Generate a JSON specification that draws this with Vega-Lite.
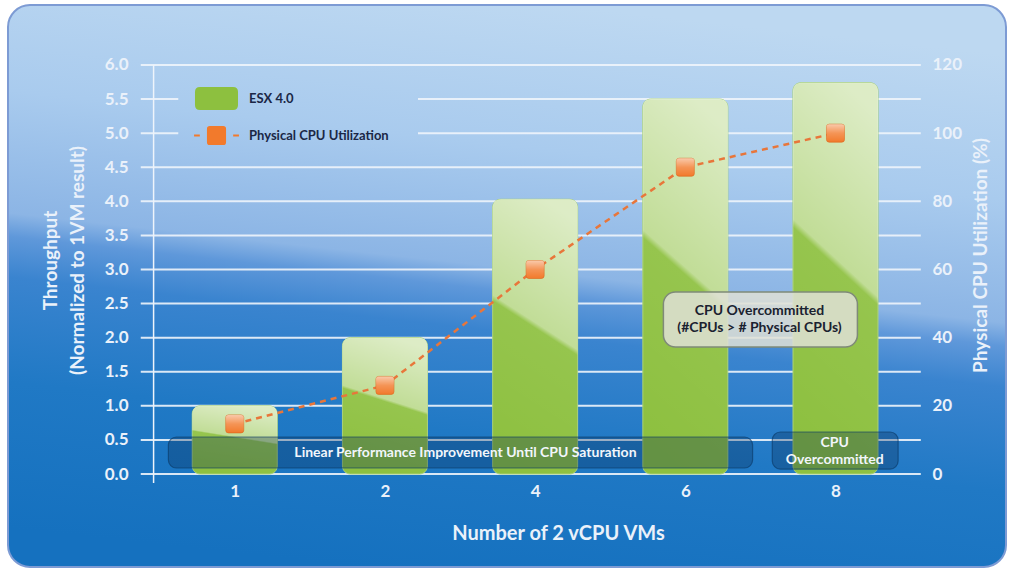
{
  "$schema": "https://vega.github.io/schema/vega-lite/v6.json",
  "width": 998,
  "height": 562,
  "autosize": {"type": "none"},
  "padding": {"left": 8, "top": 5, "right": 8, "bottom": 4},
  "background": "white",
  "config": {
    "view": {
      "cornerRadius": 22,
      "stroke": "#7d9bd4",
      "strokeWidth": 2,
      "fill": {
        "gradient": "linear",
        "x1": 0.55, "y1": 0, "x2": 0.354, "y2": 1,
        "stops": [
          {"offset": 0, "color": "#bdd8f1"},
          {"offset": 0.25, "color": "#a9cbee"},
          {"offset": 0.46, "color": "#8cb5e5"},
          {"offset": 0.5, "color": "#5f98da"},
          {"offset": 0.57, "color": "#3a84cf"},
          {"offset": 0.75, "color": "#2079c5"},
          {"offset": 1, "color": "#1571bf"}
        ]
      }
    },
    "font": "Lato",
    "axis": {"labelFont": "Lato", "titleFont": "Lato", "zindex": 1, "grid": false, "domain": false, "ticks": false},
    "legend": {"labelFont": "Lato"}
  },
  "datasets": {
    "main": [
      {"slot": 0, "vms": "1", "throughput": 1.0, "cpu": 14.7},
      {"slot": 1, "vms": "2", "throughput": 2.0, "cpu": 26},
      {"slot": 2, "vms": "4", "throughput": 4.03, "cpu": 60},
      {"slot": 3, "vms": "6", "throughput": 5.5, "cpu": 90},
      {"slot": 4, "vms": "8", "throughput": 5.74, "cpu": 100}
    ],
    "grid": [
      {"y": 0.0, "x1": -0.626, "x2": 4.568},
      {"y": 0.5, "x1": -0.626, "x2": 4.568},
      {"y": 1.0, "x1": -0.626, "x2": 4.568},
      {"y": 1.5, "x1": -0.626, "x2": 4.568},
      {"y": 2.0, "x1": -0.626, "x2": 4.568},
      {"y": 2.5, "x1": -0.626, "x2": 4.568},
      {"y": 3.0, "x1": -0.626, "x2": 4.568},
      {"y": 3.5, "x1": -0.626, "x2": 4.568},
      {"y": 4.0, "x1": -0.626, "x2": 4.568},
      {"y": 4.5, "x1": -0.626, "x2": 4.568},
      {"y": 5.0, "x1": -0.626, "x2": -0.376},
      {"y": 5.0, "x1": 1.22, "x2": 4.568},
      {"y": 5.5, "x1": -0.626, "x2": -0.376},
      {"y": 5.5, "x1": 1.22, "x2": 4.568},
      {"y": 6.0, "x1": -0.626, "x2": 4.568}
    ],
    "axisline": [{"x": -0.5405, "y1": 6.0, "y2": -0.13}],
    "darkboxes": [
      {"x1": -0.442, "x2": 3.448, "y1": 0.543, "y2": 0.088},
      {"x1": 3.579, "x2": 4.417, "y1": 0.616, "y2": 0.073}
    ],
    "darktext": [
      {"x": 1.536, "y": 0.308, "label": "Linear Performance Improvement Until CPU Saturation"},
      {"x": 3.995, "y": 0.455, "label": "CPU\nOvercommitted"}
    ],
    "callout": [
      {"x1": 2.854, "x2": 4.146, "y1": 2.67, "y2": 1.863, "x": 3.494, "y": 2.391, "label": "CPU Overcommitted\n(#CPUs > # Physical CPUs)"}
    ]
  },
  "resolve": {"scale": {"y": "independent"}, "axis": {"y": "independent"}},
  "layer": [
    {
      "layer": [
        {
          "data": {"name": "grid"},
          "mark": {"type": "rule", "color": "#eef4fb", "strokeWidth": 2, "opacity": 0.9},
          "encoding": {
            "x": {"field": "x1", "type": "quantitative", "scale": {"domain": [-1.4766, 5.102], "nice": false, "zero": false}},
            "x2": {"field": "x2"},
            "y": {"field": "y", "type": "quantitative", "scale": {"domain": [-1.364, 6.88], "nice": false, "zero": false}}
          }
        },
        {
          "data": {"name": "axisline"},
          "mark": {"type": "rule", "color": "#eef4fb", "strokeWidth": 1.5},
          "encoding": {
            "x": {"field": "x", "type": "quantitative"},
            "y": {"field": "y1", "type": "quantitative"},
            "y2": {"field": "y2"}
          }
        },
        {
          "data": {"name": "main"},
          "mark": {"type": "bar", "orient": "vertical", "width": 85, "cornerRadius": 8, "stroke": "#a9d177", "strokeWidth": 1},
          "encoding": {
            "x": {
              "field": "slot", "type": "quantitative",
              "axis": {
                "title": "Number of 2 vCPU VMs",
                "values": [0, 1, 2, 3, 4],
                "labelExpr": "['1','2','4','6','8'][datum.value]",
                "domain": false, "ticks": false, "grid": false, "zindex": 1,
                "offset": -93, "labelPadding": 9, "labelFlush": false, "labelOverlap": false,
                "labelFontSize": 17, "labelFontWeight": "bold", "labelColor": "#eaf1fa",
                "titleFontSize": 20, "titleFontWeight": "bold", "titleColor": "#eaf1fa",
                "titleX": 550, "titleY": 59, "titleBaseline": "middle", "titleAlign": "center"
              }
            },
            "y": {
              "field": "throughput", "type": "quantitative",
              "axis": {
                "title": ["Throughput", "(Normalized to 1VM result)"],
                "values": [0, 0.5, 1, 1.5, 2, 2.5, 3, 3.5, 4, 4.5, 5, 5.5, 6],
                "format": ".1f",
                "domain": false, "ticks": false, "grid": false, "zindex": 1,
                "offset": -129, "labelPadding": 9, "labelFlush": false, "labelOverlap": false,
                "labelFontSize": 17, "labelFontWeight": "bold", "labelColor": "#eaf1fa",
                "titleFontSize": 19, "titleFontWeight": "bold", "titleColor": "#eaf1fa",
                "titleAngle": 270, "titleX": -87, "titleY": 255, "titleBaseline": "middle", "titleAlign": "center", "titleLineHeight": 27
              }
            },
            "y2": {"datum": 0},
            "color": {
              "datum": "ESX 4.0",
              "scale": {"domain": ["ESX 4.0", "Physical CPU Utilization"], "range": ["#8dc03f", "#f27a2c"]},
              "legend": {
                "orient": "none", "legendX": 197, "legendY": 82, "title": null, "padding": 0,
                "symbolSize": 529, "symbolStrokeWidth": 0, "labelOffset": 21, "rowPadding": 14,
                "labelFontSize": 13, "labelFontWeight": "bold", "labelColor": "#1b2746",
                "symbolType": {"expr": "datum.value === 'ESX 4.0' ? 'M-1.44,-1H1.44Q1.87,-1,1.87,-0.57V0.57Q1.87,1,1.44,1H-1.44Q-1.87,1,-1.87,0.57V-0.57Q-1.87,-1,-1.44,-1Z' : 'M-0.58,-0.83H0.58Q0.83,-0.83,0.83,-0.58V0.58Q0.83,0.83,0.58,0.83H-0.58Q-0.83,0.83,-0.83,0.58V-0.58Q-0.83,-0.83,-0.58,-0.83Z M-1.95,-0.09H-1.45V0.09H-1.95Z M1.45,-0.09H1.95V0.09H1.45Z'"}
              }
            }
          }
        },
        {
          "data": {"name": "main"},
          "mark": {
            "type": "bar", "orient": "vertical", "width": 85, "cornerRadius": 8,
            "fill": {
              "gradient": "linear", "x1": 0.6, "y1": 0, "x2": 0.4, "y2": 1,
              "stops": [
                {"offset": 0, "color": "rgba(255,255,255,0.7)"},
                {"offset": 0.45, "color": "rgba(255,255,255,0.46)"},
                {"offset": 0.47, "color": "rgba(255,255,255,0.08)"},
                {"offset": 1, "color": "rgba(255,255,255,0)"}
              ]
            }
          },
          "encoding": {
            "x": {"field": "slot", "type": "quantitative"},
            "y": {"field": "throughput", "type": "quantitative"},
            "y2": {"datum": 0}
          }
        },
        {
          "data": {"name": "darkboxes"},
          "mark": {"type": "rect", "cornerRadius": 8, "fill": "#062850", "fillOpacity": 0.3, "stroke": "#0a3866", "strokeOpacity": 0.6, "strokeWidth": 1.2},
          "encoding": {
            "x": {"field": "x1", "type": "quantitative"},
            "x2": {"field": "x2"},
            "y": {"field": "y1", "type": "quantitative"},
            "y2": {"field": "y2"}
          }
        },
        {
          "data": {"name": "darktext"},
          "mark": {"type": "text", "color": "#f2f6fb", "fontSize": 14, "fontWeight": "bold", "align": "center", "baseline": "middle", "lineBreak": "\n", "lineHeight": 17},
          "encoding": {
            "x": {"field": "x", "type": "quantitative"},
            "y": {"field": "y", "type": "quantitative"},
            "text": {"field": "label"}
          }
        },
        {
          "data": {"name": "callout"},
          "mark": {"type": "rect", "cornerRadius": 12, "fill": "#dfe1d6", "fillOpacity": 0.85, "stroke": "#7f8a78", "strokeWidth": 1.5},
          "encoding": {
            "x": {"field": "x1", "type": "quantitative"},
            "x2": {"field": "x2"},
            "y": {"field": "y1", "type": "quantitative"},
            "y2": {"field": "y2"}
          }
        },
        {
          "data": {"name": "callout"},
          "mark": {"type": "text", "color": "#1a2230", "fontSize": 14, "fontWeight": "bold", "align": "center", "baseline": "middle", "lineBreak": "\n", "lineHeight": 17},
          "encoding": {
            "x": {"field": "x", "type": "quantitative"},
            "y": {"field": "y", "type": "quantitative"},
            "text": {"field": "label"}
          }
        }
      ]
    },
    {
      "data": {"name": "main"},
      "layer": [
        {
          "mark": {"type": "line", "stroke": "#e8763a", "strokeWidth": 2.5, "strokeDash": [6, 5]},
          "encoding": {
            "x": {"field": "slot", "type": "quantitative"},
            "y": {
              "field": "cpu", "type": "quantitative",
              "scale": {"domain": [-27.28, 137.6], "nice": false, "zero": false},
              "axis": {
                "orient": "right",
                "title": "Physical CPU Utilization (%)",
                "values": [0, 20, 40, 60, 80, 100, 120],
                "domain": false, "ticks": false, "grid": false, "zindex": 1,
                "offset": -81, "labelPadding": 7, "labelFlush": false, "labelOverlap": false,
                "labelFontSize": 17, "labelFontWeight": "bold", "labelColor": "#eaf1fa",
                "titleFontSize": 19, "titleFontWeight": "bold", "titleColor": "#eaf1fa",
                "titleAngle": 270, "titleX": 55, "titleY": 250, "titleBaseline": "middle", "titleAlign": "center"
              }
            }
          }
        },
        {
          "mark": {"type": "point", "filled": true, "opacity": 1, "size": 324, "stroke": "#dc6418", "strokeWidth": 0.6, "shape": "M-0.7,-1H0.7Q1,-1,1,-0.7V0.7Q1,1,0.7,1H-0.7Q-1,1,-1,0.7V-0.7Q-1,-1,-0.7,-1Z"},
          "encoding": {
            "x": {"field": "slot", "type": "quantitative"},
            "y": {"field": "cpu", "type": "quantitative"},
            "color": {"datum": "Physical CPU Utilization"}
          }
        },
        {
          "mark": {
            "type": "point", "filled": true, "opacity": 1, "size": 324, "strokeWidth": 0,
            "shape": "M-0.7,-1H0.7Q1,-1,1,-0.7V0.7Q1,1,0.7,1H-0.7Q-1,1,-1,0.7V-0.7Q-1,-1,-0.7,-1Z",
            "fill": {
              "gradient": "linear", "x1": 0, "y1": 0, "x2": 0, "y2": 1,
              "stops": [
                {"offset": 0, "color": "rgba(255,255,255,0.6)"},
                {"offset": 0.5, "color": "rgba(255,255,255,0.2)"},
                {"offset": 1, "color": "rgba(255,255,255,0)"}
              ]
            }
          },
          "encoding": {
            "x": {"field": "slot", "type": "quantitative"},
            "y": {"field": "cpu", "type": "quantitative"}
          }
        }
      ]
    }
  ]
}
